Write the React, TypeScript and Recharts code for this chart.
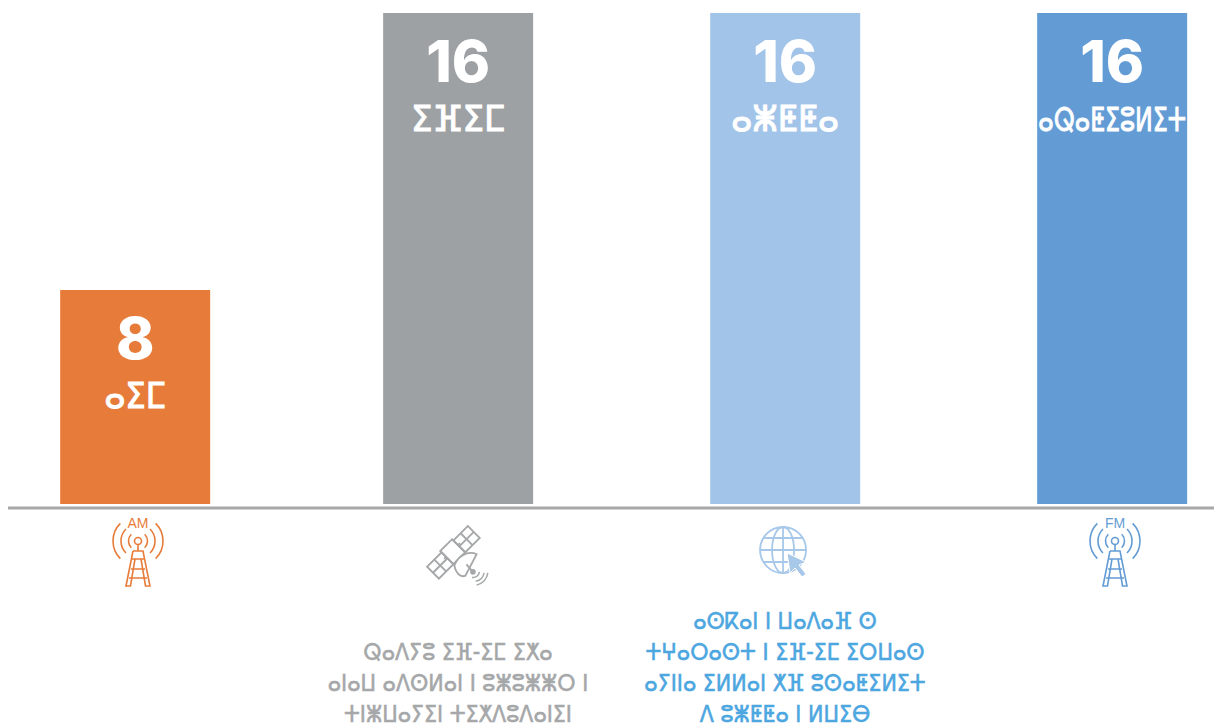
import { BarChart, Bar, XAxis, YAxis, LabelList, Rectangle } from 'recharts';

// Categories and what is printed on each bar
const categories = ['am', 'satellite', 'web', 'fm'];
const valueLabels = ['8', '16', '16', '16'];
const barNames = ['ⴰⵉⵎ', 'ⵉⴼⵉⵎ', 'ⴰⵥⵟⵟⴰ', 'ⴰⵕⴰⵟⵉⵓⵍⵉⵜ'];
// Drawn heights: the "8" bar is shorter than half of a "16" bar
const barHeights = [6.97, 16, 16, 16];
const colors = ['#E77C3A', '#9DA1A4', '#A3C4E9', '#639CD5'];
const captionColors = ['#A5A7A9', '#A5A7A9', '#4CA6E0', '#4CA6E0'];
const captions = [
  [],
  [
    'ⵕⴰⴷⵢⵓ ⵉⴼ-ⵉⵎ ⵉⵅⴰ',
    'ⴰⵏⴰⵡ ⴰⴷⵙⵍⴰⵏ ⵏ ⵓⵥⵓⵥⵥⵔ ⵏ',
    'ⵜⵏⵥⵡⴰⵢⵉⵏ ⵜⵉⵅⴷⵓⴷⴰⵏⵉⵏ',
  ],
  [
    'ⴰⵙⴽⴰⵏ ⵏ ⵡⴰⴷⴰⴼ ⵙ',
    'ⵜⵖⴰⵔⴰⵙⵜ ⵏ ⵉⴼ-ⵉⵎ ⵉⵔⵡⴰⵙ',
    'ⴰⵢⵏⵏⴰ ⵉⵍⵍⴰⵏ ⵅⴼ ⵓⵙⴰⵟⵉⵍⵉⵜ',
    'ⴷ ⵓⵥⵟⵟⴰ ⵏ ⵍⵡⵉⴱ',
  ],
  [],
];

const data = categories.map((name, i) => ({ name, height: barHeights[i], valueLabel: valueLabels[i] }));

// the columns are not evenly spaced in the original, so nudge them off the even scale
const nudge = [0, -2.7, -1.3, 0];
// DejaVu's Tifinagh is wider than the original face
const nameSqueeze = [0.9, 0.95, 0.9, 0.72];
const tifinagh = '"DejaVu Sans", sans-serif';

function Tower({ color, label }: { color: string; label: string }) {
  const arc = (r: number, side: number) => {
    const dx = r * 0.707 * side;
    return `M${dx},${-r * 0.707} A${r},${r} 0 0 ${side > 0 ? 1 : 0} ${dx},${r * 0.707}`;
  };
  return (
    <g fill="none" stroke={color} strokeWidth={1.6}>
      <text x={0} y={-13} textAnchor="middle" fontSize={14} fontFamily="Arial, Liberation Sans" fill={color} stroke="none">
        {label}
      </text>
      {[9.5, 17, 25].map((r) => (
        <g key={r}>
          <path d={arc(r, 1)} />
          <path d={arc(r, -1)} />
        </g>
      ))}
      <circle cx={0} cy={0} r={3.5} />
      <path d="M0,3.5 V10 M-5,10 H5 L12,45 H7.5 L3,18 M-5,10 L-12,45 H-7.5 L-3,18 M-6,18 H6 M-7,28 H7 M-9,37 H9" />
    </g>
  );
}

function Satellite({ color }: { color: string }) {
  return (
    <g fill="none" stroke={color} strokeWidth={2} transform="scale(0.93)">
      <g transform="translate(-6,-5) rotate(-45)">
        <rect x={-31} y={-9} width={22} height={18} />
        <path d="M-20,-9 V9 M-31,0 H-9" />
        <rect x={9} y={-9} width={22} height={18} />
        <path d="M20,-9 V9 M9,0 H31" />
        <rect x={-9} y={-11} width={18} height={20} />
        <path d="M-9,-2 H-12 M9,-2 H12" />
      </g>
      <path d="M-5,9 C-3,19 3,22 7,20 L19,-3 C13,-6 1,-5 -5,9 Z" fill="#fff" />
      <path d="M8,8 L14,15" />
      <circle cx={15} cy={16} r={2} fill={color} />
      <path d="M18,26 A11,11 0 0 0 27,17 M19,30 A15,15 0 0 0 31,17 M14,22 A7,7 0 0 0 22,16" strokeWidth={1.6} />
    </g>
  );
}

function WebGlobe({ color }: { color: string }) {
  return (
    <g fill="none" stroke={color} strokeWidth={1.8}>
      <circle cx={0} cy={0} r={23} />
      <ellipse cx={0} cy={0} rx={11} ry={23} />
      <path d="M0,-23 V23 M-23,0 H23 M-19,-12 H19 M-19,12 H19" />
      <path d="M4,3 L23,12 L16,15 L23,24 L19,27 L12,18 L7,23 Z" fill={color} stroke="#fff" strokeWidth={1} />
    </g>
  );
}

function AxisTick(props: any) {
  const { x, y, index } = props;
  const cx = x + nudge[index];
  const lines: string[] = captions[index];
  const color = colors[index];
  return (
    <g>
      {index === 0 && (
        <g transform={`translate(${cx + 3},${y + 33})`}>
          <Tower color={color} label="AM" />
        </g>
      )}
      {index === 1 && (
        <g transform={`translate(${cx + 1},${y + 49})`}>
          <Satellite color="#A5A7A9" />
        </g>
      )}
      {index === 2 && (
        <g transform={`translate(${cx - 2},${y + 42})`}>
          <WebGlobe color="#A8C8EA" />
        </g>
      )}
      {index === 3 && (
        <g transform={`translate(${cx + 3},${y + 33})`}>
          <Tower color={color} label="FM" />
        </g>
      )}
      {lines.map((line, i) => (
        <text
          key={i}
          transform={`translate(${cx},${y + 214 - (lines.length - 1 - i) * 31}) scale(0.86,1)`}
          textAnchor="middle"
          fontFamily={tifinagh}
          fontSize={24}
          fill={captionColors[index]}
          stroke={captionColors[index]}
          strokeWidth={0.6}
        >
          {line}
        </text>
      ))}
    </g>
  );
}

function BarShape(props: any) {
  return <Rectangle {...props} x={props.x + nudge[props.index]} />;
}

function BarLabel(props: any) {
  const { x, y, width, index } = props;
  const cx = x + width / 2 + nudge[index];
  return (
    <g fill="#fff" textAnchor="middle">
      <text x={cx} y={y + 69} fontFamily="Inter, sans-serif" fontWeight={800} fontSize={58}>
        {valueLabels[index]}
      </text>
      <text
        transform={`translate(${cx},${y + 118}) scale(${nameSqueeze[index]},1)`}
        fontFamily={tifinagh}
        fontSize={index === 3 ? 33 : 36}
        stroke="#fff"
        strokeWidth={1}
      >
        {barNames[index]}
      </text>
    </g>
  );
}

export default function App() {
  return (
    <>
      {/* the axis line runs to the right edge of the page, so drop the body margin */}
      <style>{'body { margin: 0; }'}</style>
      <BarChart
        width={1214}
        height={728}
        data={data}
        margin={{ top: 13, right: 0, bottom: 0, left: 8 }}
        barSize={150}
      >
        <XAxis
          dataKey="name"
          scale="point"
          padding={{ left: 127, right: 102 }}
          height={220}
          interval={0}
          tickLine={false}
          tickSize={0}
          tickMargin={0}
          axisLine={{ stroke: '#A8A8A8', strokeWidth: 3 }}
          tick={<AxisTick />}
        />
        <YAxis hide domain={[-0.13, 16]} />
        <Bar dataKey="height" isAnimationActive={false} shape={(p: any) => <BarShape {...p} fill={colors[p.index]} />}>
          <LabelList dataKey="valueLabel" content={<BarLabel />} />
        </Bar>
      </BarChart>
    </>
  );
}
